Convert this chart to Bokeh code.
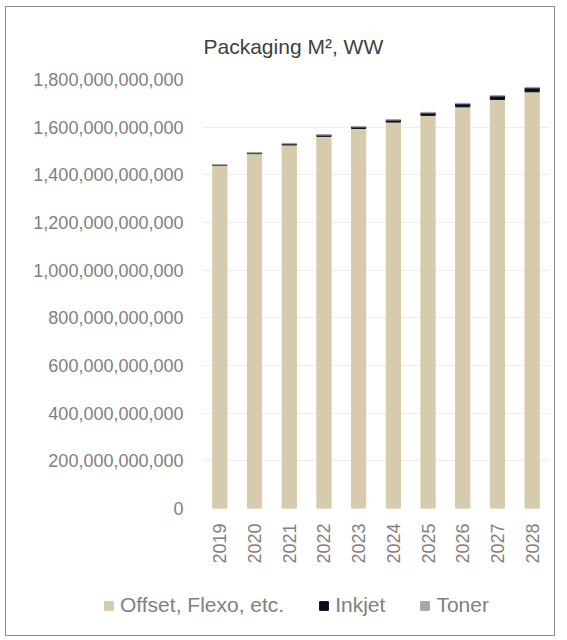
from bokeh.plotting import figure
from bokeh.models import ColumnDataSource, Legend, LegendItem, NumeralTickFormatter, Range1d, Title
from bokeh.embed import file_html
from bokeh.resources import INLINE
import math

years = ["2019", "2020", "2021", "2022", "2023", "2024", "2025", "2026", "2027", "2028"]
# values in billions of m2
offset = [1439.5, 1489.0, 1525.5, 1561.5, 1594.5, 1621.5, 1649.5, 1685.5, 1716.5, 1748.5]
inkjet = [2.0, 3.0, 4.5, 5.5, 6.5, 8.5, 10.5, 12.5, 14.5, 16.5]
toner = [1.5, 2.0, 2.0, 2.0, 2.0, 2.0, 2.0, 2.0, 2.0, 2.0]
series_labels = ["Offset, Flexo, etc.", "Inkjet", "Toner"]
y_ticks = [0, 200e9, 400e9, 600e9, 800e9, 1000e9, 1200e9, 1400e9, 1600e9, 1800e9]

B = 1e9
src = ColumnDataSource(dict(
    year=years,
    offset=[v * B for v in offset],
    inkjet=[v * B for v in inkjet],
    toner=[v * B for v in toner],
))

FONT = "Liberation Sans"
GRAY = "#857e7e"
BORDER = "1.5px solid #8c8c8c"
colors = ["#d6cbac", "#0c0c1c", "#a6a6a6"]

p = figure(x_range=years, y_range=Range1d(0, 1800e9), width=550, height=568,
           output_backend="svg", toolbar_location=None,
           min_border_left=196, min_border_right=7, min_border_top=72, min_border_bottom=67)
p.styles = {"border-top": BORDER, "border-left": BORDER, "border-right": BORDER,
            "margin-left": "5px", "margin-top": "6px"}

r = p.vbar_stack(["offset", "inkjet", "toner"], x="year", width=0.41, color=colors, source=src)

p.yaxis.ticker = y_ticks
p.yaxis.formatter = NumeralTickFormatter(format="0,0")
for ax in (p.xaxis, p.yaxis):
    ax.axis_line_color = None
    ax.major_tick_line_color = None
    ax.minor_tick_line_color = None
    ax.major_label_text_font = FONT
    ax.major_label_text_font_size = "18px"
    ax.major_label_text_color = GRAY
p.yaxis.major_label_standoff = 13
p.xaxis.major_label_orientation = math.pi / 2
p.xaxis.major_label_standoff = 9

p.xgrid.grid_line_color = None
p.ygrid.grid_line_color = "#eeeeee"
p.ygrid.ticker = y_ticks
p.outline_line_color = None

t = Title(text="Packaging M², WW", text_font=FONT, text_font_size="21px",
          text_color="#404040", text_font_style="normal", align="left", offset=1,
          standoff=44)
p.add_layout(t, "above")

# legend strip below the chart (same series; renderers hidden, only the legend is shown)
p2 = figure(x_range=years, y_range=Range1d(0, 1), width=550, height=62,
            output_backend="svg", toolbar_location=None, x_axis_type=None, y_axis_type=None,
            min_border_left=0, min_border_right=0, min_border_top=0, min_border_bottom=0)
p2.styles = {"border-bottom": BORDER, "border-left": BORDER, "border-right": BORDER,
             "margin-left": "5px"}
p2.xgrid.grid_line_color = None
p2.ygrid.grid_line_color = None
p2.outline_line_color = None
lr = p2.vbar_stack(["offset", "inkjet", "toner"], x="year", width=0.41, color=colors, source=src)
for rr in lr:
    rr.visible = False

legend = Legend(items=[LegendItem(label=lab, renderers=[rr]) for lab, rr in zip(series_labels, lr)],
                orientation="horizontal", location=(97, 19),
                glyph_width=11, glyph_height=11, label_standoff=6, spacing=34,
                padding=0, margin=0, border_line_color=None, background_fill_alpha=0,
                inactive_fill_alpha=0,
                label_text_font=FONT, label_text_font_size="21px", label_text_color=GRAY)
p2.add_layout(legend, "center")

open("out.html", "w").write(file_html([p, p2], INLINE))
